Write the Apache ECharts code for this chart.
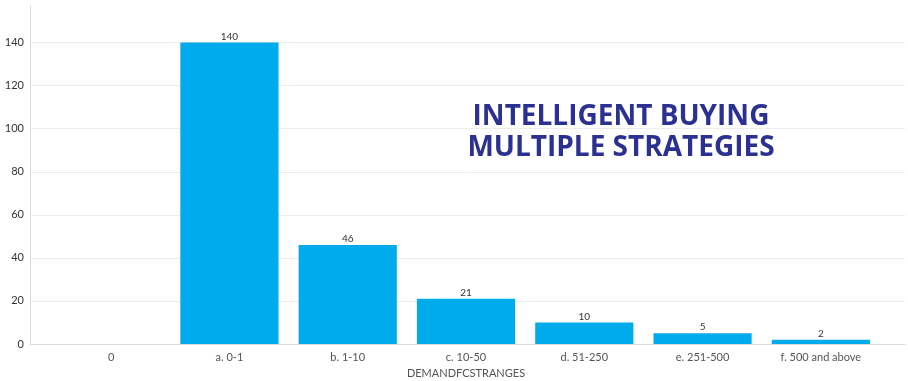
<!DOCTYPE html>
<html>
<head>
<meta charset="utf-8">
<script src="https://cdn.jsdelivr.net/npm/echarts@6/dist/echarts.min.js"></script>
<style>html,body{margin:0;padding:0;background:#fff;}#c{width:908px;height:381px;}</style>
</head>
<body>
<div id="c"></div>
<script>
const categories = ['0', 'a. 0-1', 'b. 1-10', 'c. 10-50', 'd. 51-250', 'e. 251-500', 'f. 500 and above'];
const counts = [0, 140, 46, 21, 10, 5, 2];
const valueLabels = ['', '140', '46', '21', '10', '5', '2'];
const yMin = 0, yMax = 157, yStep = 20;

const chart = echarts.init(document.getElementById('c'));
const gridColors = ['#ececec','#ececec','#ececec','#ececec','#ececec','#ececec','#ececec','#ececec','rgba(0,0,0,0)'];
chart.setOption({
  animation: false,
  textStyle: { fontFamily: 'Lato, "Open Sans", sans-serif' },
  graphic: [{
    type: 'text', x: 621, y: 102,
    style: {
      text: 'INTELLIGENT BUYING\nMULTIPLE STRATEGIES',
      textAlign: 'center', fill: '#2b3190',
      font: 'bold 28px "Open Sans", sans-serif', lineHeight: 31
    },
    z: 10
  }],
  grid: [
    { left: 30, right: 3, top: 6, bottom: 37, outerBoundsMode: 'none', containLabel: false },
    { left: 52, right: 28, top: 6, bottom: 37, outerBoundsMode: 'none', containLabel: false }
  ],
  xAxis: [
    { gridIndex: 0, type: 'value', min: 0, max: 1, axisLine: { show: true, lineStyle: { color: '#dcdcdc' } },
      axisTick: { show: false }, axisLabel: { show: false }, splitLine: { show: false } },
    { gridIndex: 1, type: 'category', data: categories,
      axisLine: { show: false }, axisTick: { show: false },
      axisLabel: { color: '#555', fontSize: 11, margin: 8 },
      name: 'DEMANDFCSTRANGES', nameLocation: 'middle', nameGap: 24,
      nameTextStyle: { color: '#555', fontSize: 11 } }
  ],
  yAxis: [
    { gridIndex: 0, type: 'value', min: yMin, max: yMax, interval: yStep,
      axisLine: { show: true, lineStyle: { color: '#dcdcdc' } }, axisTick: { show: false },
      axisLabel: { color: '#333', fontSize: 11, margin: 6, showMaxLabel: false },
      splitLine: { show: true, lineStyle: { color: gridColors } } },
    { gridIndex: 1, type: 'value', min: yMin, max: yMax, interval: yStep, show: false,
      splitLine: { show: false } }
  ],
  series: [{
    type: 'bar', xAxisIndex: 1, yAxisIndex: 1, data: counts,
    barWidth: '83%',
    itemStyle: { color: '#00abec' },
    label: { show: true, position: 'top', distance: 1, color: '#333', fontSize: 10,
      formatter: p => valueLabels[p.dataIndex] }
  }]
});
</script>
</body>
</html>
